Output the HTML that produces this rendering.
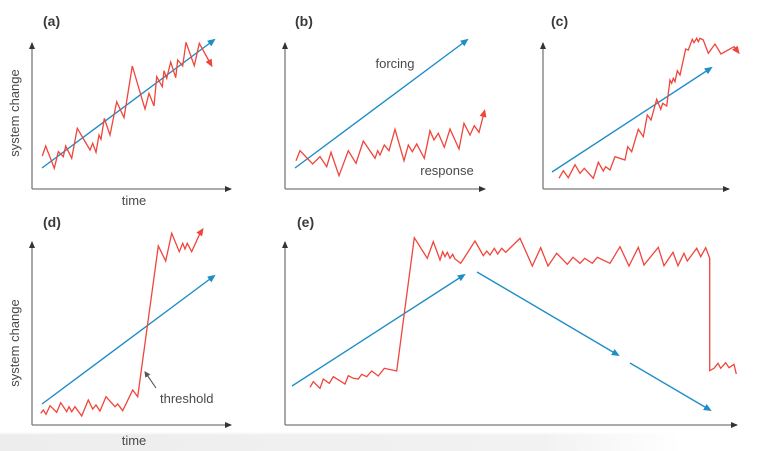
<!DOCTYPE html>
<html><head><meta charset="utf-8"><style>
html,body{margin:0;padding:0;background:#fff;}
svg{display:block;}
text{font-family:"Liberation Sans",sans-serif;fill:#4a4a4a;}
.lbl{font-weight:bold;font-size:14px;fill:#3a3a3a;}
.t{font-size:13px;}
.ax{stroke:#7a7a7a;stroke-width:1.3;fill:none;}
.r{stroke:#f0453b;stroke-width:1.3;fill:none;stroke-linejoin:miter;}
.b{stroke:#1f8dc6;stroke-width:1.4;fill:none;}
</style></head><body>
<svg width="774" height="451" viewBox="0 0 774 451" xmlns="http://www.w3.org/2000/svg">
<defs>
<linearGradient id="band" x1="0" y1="0" x2="1" y2="0">
<stop offset="0" stop-color="#ededed"/><stop offset="0.7" stop-color="#f2f2f2"/><stop offset="0.88" stop-color="#ffffff"/>
</linearGradient>
<linearGradient id="bandv" x1="0" y1="0" x2="0" y2="1">
<stop offset="0" stop-color="#fff" stop-opacity="1"/><stop offset="0.5" stop-color="#fff" stop-opacity="0"/>
</linearGradient>
<marker id="ma" markerWidth="8" markerHeight="8" refX="6" refY="3" orient="auto" markerUnits="userSpaceOnUse"><path d="M0,0 L7,3 L0,6 Z" fill="#333"/></marker>
<marker id="mr" markerWidth="9" markerHeight="9" refX="6" refY="3.5" orient="auto" markerUnits="userSpaceOnUse"><path d="M0,0 L8,3.5 L0,7 Z" fill="#f0453b"/></marker>
<marker id="mb" markerWidth="9" markerHeight="9" refX="6" refY="3.5" orient="auto" markerUnits="userSpaceOnUse"><path d="M0,0 L8,3.5 L0,7 Z" fill="#1f8dc6"/></marker>
<marker id="mg" markerWidth="8" markerHeight="8" refX="5" refY="3" orient="auto" markerUnits="userSpaceOnUse"><path d="M0,0 L6,3 L0,6 Z" fill="#555"/></marker>
</defs>
<rect x="0" y="432" width="774" height="19" fill="url(#band)"/>
<rect x="0" y="432" width="774" height="6" fill="url(#bandv)"/>

<!-- (a) -->
<text class="lbl" x="43" y="26">(a)</text>
<path class="ax" d="M32,189 L32,43" marker-end="url(#ma)"/>
<path class="ax" d="M32,189 L231,189" marker-end="url(#ma)"/>
<text class="t" transform="translate(19,113) rotate(-90)" text-anchor="middle">system change</text>
<text class="t" x="134" y="205" text-anchor="middle">time</text>
<path class="b" d="M42,168 L214,40" marker-end="url(#mb)"/>
<path class="r" marker-end="url(#mr)" d="M42.3,156 L45.7,146 L54.3,168.3 L58.3,151.7 L63.3,156.7 L65.7,146 L71.7,158.3 L77.3,128.3 L90,150 L92.7,143.3 L96,152.3 L99,135 L101,139.3 L104.3,118.3 L110,135 L116.7,101.7 L124,117.7 L132.3,66 L145,109 L149,93.3 L154,106 L156.7,76.7 L162.3,86.7 L164,70.7 L166.7,78.3 L170.7,62 L175.7,77.7 L177.7,60 L182.7,66 L186,42.3 L194.3,65.7 L199.3,43.3 L211.5,65.5"/>

<!-- (b) -->
<text class="lbl" x="295" y="26">(b)</text>
<path class="ax" d="M285,189 L285,43" marker-end="url(#ma)"/>
<path class="ax" d="M285,189 L485,189" marker-end="url(#ma)"/>
<path class="b" d="M295,168 L467,40" marker-end="url(#mb)"/>
<text class="t" x="395" y="68" text-anchor="middle">forcing</text>
<text class="t" x="447" y="175" text-anchor="middle">response</text>
<path class="r" marker-end="url(#mr)" d="M296,160.7 L300,150.7 L312.7,164 L320,156.7 L326.7,166.7 L331,152.3 L339,175.7 L348.3,150.7 L356,163.3 L363.3,141 L375,158.3 L377.7,150.7 L380,155 L384.3,145 L389,150.7 L395,129.3 L404,160.7 L408.3,145 L412.3,151.7 L416.7,144 L424.3,158.3 L430,130.7 L434,140 L438.3,133.3 L444.3,147.3 L450,129 L459,149 L464,123.3 L470,135 L474.3,125.7 L479,132.3 L484.5,111"/>

<!-- (c) -->
<text class="lbl" x="551" y="26">(c)</text>
<path class="ax" d="M543,189 L543,43" marker-end="url(#ma)"/>
<path class="ax" d="M543,189 L729,189" marker-end="url(#ma)"/>
<path class="b" d="M552,172 L711,68" marker-end="url(#mb)"/>
<path class="r" marker-end="url(#mr)" d="M559,178.3 L563.3,170.7 L568.3,177.7 L575,164.7 L580,173.3 L584.3,168.3 L593.3,178.3 L598.3,162.3 L603.3,171 L605.7,166.7 L610,170 L615,156.7 L625,160 L627.7,146.7 L631.7,151.7 L638.3,129.3 L643.3,136.7 L647.3,115 L651,120 L656.7,99.3 L660.7,109.3 L662.7,103.3 L666.7,106 L670,80 L671.7,83.3 L673.3,78.3 L675,81.7 L677.3,70.7 L680,75 L685.7,49 L688.3,50 L692.3,39.3 L694,42.7 L696.7,38.3 L698.3,41.7 L700,38.3 L703.3,40 L708.3,53.3 L715,44 L721,54 L734,46.7 L738.5,52.5"/>

<!-- (d) -->
<text class="lbl" x="43" y="227">(d)</text>
<path class="ax" d="M32,425 L32,242" marker-end="url(#ma)"/>
<path class="ax" d="M32,425 L231,425" marker-end="url(#ma)"/>
<text class="t" transform="translate(19,343) rotate(-90)" text-anchor="middle">system change</text>
<text class="t" x="134" y="445" text-anchor="middle">time</text>
<path class="b" d="M42,404 L214,276" marker-end="url(#mb)"/>
<path class="r" marker-end="url(#mr)" d="M40.7,413.3 L43.3,410 L46,414.3 L50,405.7 L56.7,412.3 L60.7,402.7 L66.7,411.7 L69,406.7 L71.7,411.7 L75,406.7 L81.7,416 L88.3,400 L92.7,409 L96,405 L100,411 L106,396.7 L115,406.7 L117.7,404 L122.7,410.7 L132.7,390 L137.7,396.7 L158.3,246 L165.7,261 L171.7,233.3 L179.3,251.7 L182.7,243.3 L185,249 L187.3,243.3 L191.7,251.7 L200,233.3 L202.5,229.5"/>
<path d="M156,388 L145,372" stroke="#555" stroke-width="1.1" fill="none" marker-end="url(#mg)"/>
<text class="t" x="160" y="403">threshold</text>

<!-- (e) -->
<text class="lbl" x="297" y="227">(e)</text>
<path class="ax" d="M285,425 L285,242" marker-end="url(#ma)"/>
<path class="ax" d="M285,425 L737,425" marker-end="url(#ma)"/>
<path class="b" d="M292,386 L464,275" marker-end="url(#mb)"/>
<path class="b" d="M477,272 L618,355" marker-end="url(#mb)"/>
<path class="b" d="M630,363 L710,410" marker-end="url(#mb)"/>
<path class="r" d="M310,387.3 L313.3,381.7 L320,388.3 L323.3,379 L329.3,383.3 L333.3,376.7 L345,384 L348.3,375.7 L353.3,378.3 L358.3,379 L361.7,374.3 L366.7,376.7 L371.7,371 L378.3,376 L384.3,368.3 L396.7,371 L414.3,237.7 L427.3,258.3 L433.3,241.7 L440,260 L442.7,251.7 L445,256.7 L447.3,252.3 L450,258.3 L452.7,254.3 L455,259 L460.7,263.3 L475,241 L483.3,255.7 L486.7,251 L490,255 L494.3,248.3 L497.7,254 L501.7,248.3 L505.7,252.3 L520,238.3 L532.3,266 L540.7,247.7 L548,266 L556.7,253.3 L567.3,264.3 L573,257.3 L580,263.3 L584.7,258.3 L592.3,263.3 L597.3,257.3 L610,263.3 L620,246.7 L629,266 L638.3,247.3 L644,265 L658.3,247.3 L664,265.7 L673,252.3 L678,265.7 L684,253.3 L687.3,261 L696.7,248.3 L700.7,256.7 L705.7,247.7 L709.7,258.3 L709.7,370.7 L714,368.3 L718,363.3 L720.7,368.3 L725.7,362.7 L729,367.7 L734,364.3 L736.3,374"/>
</svg>
</body></html>
